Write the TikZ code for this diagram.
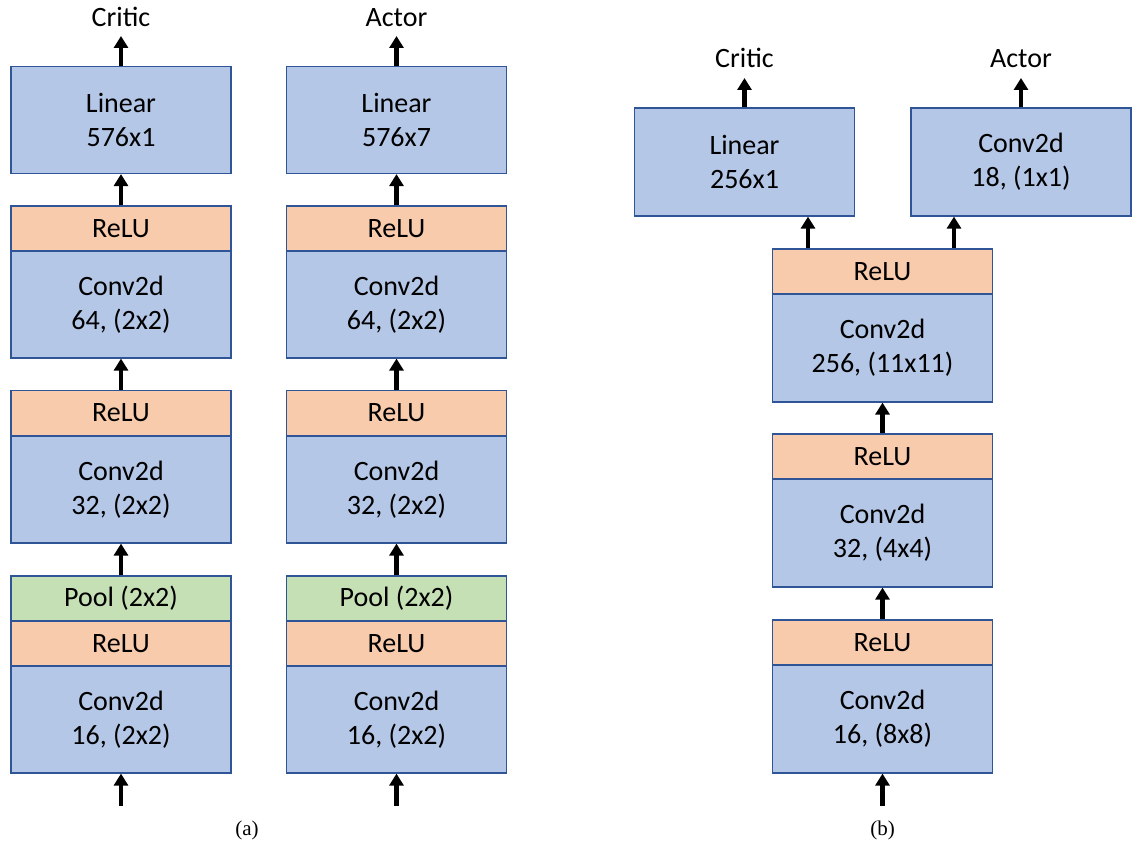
\documentclass[tikz,border=0pt]{standalone}
\usepackage{fontspec}
\setmainfont{Carlito}
\newfontfamily\capfont{Liberation Serif}
\usetikzlibrary{arrows.meta}
\definecolor{bluef}{HTML}{B4C7E7}
\definecolor{orangef}{HTML}{F8CBAD}
\definecolor{greenf}{HTML}{C5E0B4}
\definecolor{edgec}{HTML}{2F5597}
\begin{document}
\begin{tikzpicture}[x=1pt,y=-1pt,
  layer/.style={draw=edgec, line width=1.2pt, minimum width=220pt, inner sep=0pt, align=center, font=\fontsize{28}{34}\selectfont},
  conv/.style={layer, fill=bluef, minimum height=107pt},
  relu/.style={layer, fill=orangef, minimum height=45pt},
  pool/.style={layer, fill=greenf, minimum height=45pt},
  arr/.style={line width=4.5pt, -{Triangle[width=14pt,length=12pt]}},
  lbl/.style={font=\fontsize{28}{34}\selectfont, inner sep=0pt, anchor=base},
  captext/.style={font=\capfont\fontsize{21}{25}\selectfont, inner sep=0pt}]
\useasboundingbox (0,0) rectangle (1133,850);
% ---------- (a) critic column ----------
\node[conv] (a1lin) at (121,120) {Linear\\576x1};
\node[relu] (a1r3) at (121,228.5) {ReLU};
\node[conv] (a1c3) at (121,304.5) {Conv2d\\64, (2x2)};
\node[relu] (a1r2) at (121,413) {ReLU};
\node[conv] (a1c2) at (121,489.5) {Conv2d\\32, (2x2)};
\node[pool] (a1p) at (121,598.5) {Pool (2x2)};
\node[relu] (a1r1) at (121,643.5) {ReLU};
\node[conv] (a1c1) at (121,719.5) {Conv2d\\16, (2x2)};
\node[lbl] (a1out) at (121,27) {Critic};
\coordinate (a1in) at (121,806);
\draw[arr] (a1in) -- (a1c1.south);
\draw[arr] (a1p.north) -- (a1c2.south);
\draw[arr] (a1r2.north) -- (a1c3.south);
\draw[arr] (a1r3.north) -- (a1lin.south);
\draw[arr, shorten >=9pt] (a1lin.north) -- (a1out.base);
% ---------- (a) actor column ----------
\node[conv] (a2lin) at (396.5,120) {Linear\\576x7};
\node[relu] (a2r3) at (396.5,228.5) {ReLU};
\node[conv] (a2c3) at (396.5,304.5) {Conv2d\\64, (2x2)};
\node[relu] (a2r2) at (396.5,413) {ReLU};
\node[conv] (a2c2) at (396.5,489.5) {Conv2d\\32, (2x2)};
\node[pool] (a2p) at (396.5,598.5) {Pool (2x2)};
\node[relu] (a2r1) at (396.5,643.5) {ReLU};
\node[conv] (a2c1) at (396.5,719.5) {Conv2d\\16, (2x2)};
\node[lbl] (a2out) at (396.5,27) {Actor};
\coordinate (a2in) at (396.5,806);
\draw[arr] (a2in) -- (a2c1.south);
\draw[arr] (a2p.north) -- (a2c2.south);
\draw[arr] (a2r2.north) -- (a2c3.south);
\draw[arr] (a2r3.north) -- (a2lin.south);
\draw[arr, shorten >=9pt] (a2lin.north) -- (a2out.base);
\node[captext] (capa) at (247,830) {(a)};
% ---------- (b) ----------
\node[conv, minimum height=108pt] (blin) at (744.5,162) {Linear\\256x1};
\node[conv, minimum height=108pt] (bact) at (1021,162) {Conv2d\\18, (1x1)};
\node[relu] (br3) at (882.5,271.5) {ReLU};
\node[conv, minimum height=108pt] (bc3) at (882.5,348) {Conv2d\\256, (11x11)};
\node[relu] (br2) at (882.5,456.5) {ReLU};
\node[conv, minimum height=108pt] (bc2) at (882.5,533) {Conv2d\\32, (4x4)};
\node[relu] (br1) at (882.5,642.5) {ReLU};
\node[conv, minimum height=108pt] (bc1) at (882.5,719) {Conv2d\\16, (8x8)};
\node[lbl] (bcrit) at (744.5,68) {Critic};
\node[lbl] (bactout) at (1021,68) {Actor};
\coordinate (bin) at (882.5,806);
\coordinate (bxl) at (808,0);
\coordinate (bxr) at (954,0);
\draw[arr] (bin) -- (bc1.south);
\draw[arr] (br1.north) -- (bc2.south);
\draw[arr] (br2.north) -- (bc3.south);
\draw[arr] (br3.north -| bxl) -- (blin.south -| bxl);
\draw[arr] (br3.north -| bxr) -- (bact.south -| bxr);
\draw[arr, shorten >=10pt] (blin.north) -- (bcrit.base);
\draw[arr, shorten >=10pt] (bact.north) -- (bactout.base);
\node[captext] (capb) at (882.5,830) {(b)};
\end{tikzpicture}
\end{document}
